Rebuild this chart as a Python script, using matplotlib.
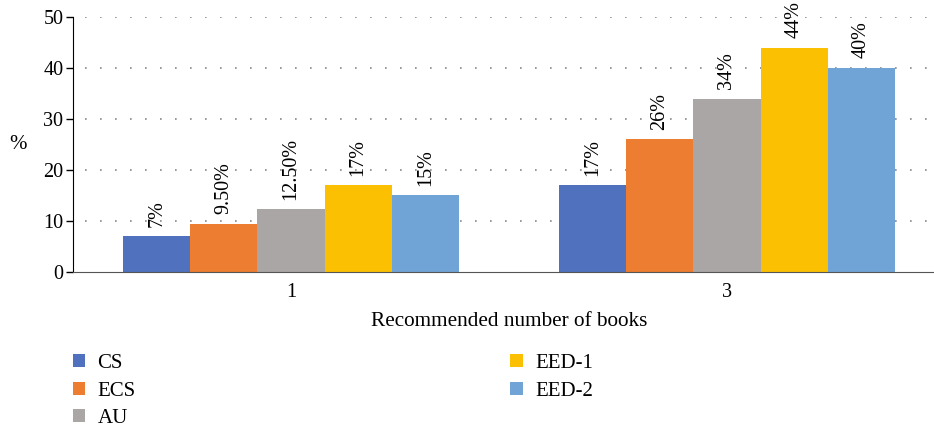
import numpy as np
import matplotlib.pyplot as plt

plt.rcParams['font.family'] = ['Liberation Serif', 'DejaVu Serif']

groups = ['1', '3']
series = ['CS', 'ECS', 'AU', 'EED-1', 'EED-2']
values = [
    [7, 17],
    [9.5, 26],
    [12.3, 34],
    [17, 44],
    [15, 40],
]
labels = [
    ['7%', '17%'],
    ['9.50%', '26%'],
    ['12.50%', '34%'],
    ['17%', '44%'],
    ['15%', '40%'],
]
colors = ['#4F71BE', '#ED7D31', '#A9A6A5', '#FBC002', '#70A4D6']

fig = plt.figure(figsize=(9.34, 4.28), dpi=100)
# the plot area runs a little past the right edge of the picture
ax = fig.add_axes([73 / 934, (428 - 272) / 428, (945 - 73) / 934, (272 - 17) / 428])

x = np.arange(len(groups))
w = 0.154
for i, (name, vals) in enumerate(zip(series, values)):
    pos = x + (i - 2) * w
    ax.bar(pos, vals, w, color=colors[i], label=name)
    for p, v, t in zip(pos, vals, labels[i]):
        ax.annotate(t, (p, v), xytext=(0, 7), textcoords='offset points',
                    rotation=90, ha='center', va='bottom', fontsize=14.5)

ax.set_xlim(-0.5, 1.5)
ax.set_ylim(0, 50)
ax.set_yticks(range(0, 51, 10))
ax.set_xticks(x)
ax.set_xticklabels(groups)
ax.tick_params(axis='x', length=0, labelsize=14.5, pad=8)
ax.tick_params(axis='y', length=5, width=1, labelsize=14.5, direction='out', pad=2)
ax.yaxis.grid(True, linestyle=(1.8, (1, 8)), color='#888888', linewidth=1.2)
ax.yaxis.get_gridlines()[0].set_visible(False)
ax.set_axisbelow(True)
for s in ['top', 'right']:
    ax.spines[s].set_visible(False)
ax.spines['bottom'].set_color('#555555')
ax.set_xlabel('Recommended number of books', fontsize=15.3, labelpad=7)
ax.set_ylabel('%', fontsize=15, rotation=0, labelpad=18, va='center')

fig.legend(loc='upper left', bbox_to_anchor=(54 / 934, 1 - 335 / 428), ncol=2,
           frameon=False, fontsize=15, handlelength=0.58, handleheight=0.58,
           handletextpad=0.6, columnspacing=18.0, labelspacing=0.42)

fig.savefig('out.png', dpi=100)
